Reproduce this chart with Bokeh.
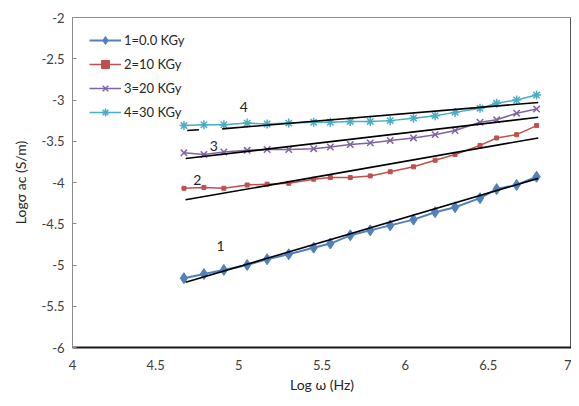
from bokeh.plotting import figure
from bokeh.models import FixedTicker, Legend, LegendItem, Label, Span
from bokeh.embed import file_html
from bokeh.resources import INLINE

# ---- data ----
log_w = [4.67, 4.79, 4.91, 5.05, 5.17, 5.30, 5.45, 5.55, 5.67, 5.79, 5.91, 6.05, 6.18, 6.30, 6.45, 6.55, 6.67, 6.79]
s1_0kgy = [-5.16, -5.11, -5.06, -5.00, -4.93, -4.87, -4.79, -4.74, -4.64, -4.58, -4.52, -4.45, -4.36, -4.30, -4.19, -4.08, -4.03, -3.93]
s2_10kgy = [-4.07, -4.06, -4.07, -4.03, -4.02, -4.01, -3.96, -3.94, -3.94, -3.92, -3.87, -3.81, -3.73, -3.66, -3.55, -3.46, -3.42, -3.31]
s3_20kgy = [-3.64, -3.66, -3.63, -3.61, -3.60, -3.60, -3.59, -3.57, -3.54, -3.52, -3.49, -3.46, -3.42, -3.37, -3.27, -3.24, -3.16, -3.11]
s4_30kgy = [-3.31, -3.30, -3.30, -3.28, -3.29, -3.28, -3.27, -3.27, -3.26, -3.26, -3.25, -3.22, -3.19, -3.15, -3.10, -3.04, -3.00, -2.94]

series_names = ["1=0.0 KGy", "2=10 KGy", "3=20 KGy", "4=30 KGy"]

# linear fit lines (end points)
fit_x = [4.68, 6.80]
fit1_y = [-5.21, -3.95]
fit2_y = [-4.21, -3.46]
fit3_y = [-3.71, -3.21]
fit4a_x = [4.69, 4.76]
fit4a_y = [-3.37, -3.36]
fit4b_x = [4.90, 6.80]
fit4b_y = [-3.35, -3.03]

curve_labels = ["1", "2", "3", "4"]
curve_label_x = [4.89, 4.75, 4.85, 5.03]
curve_label_y = [-4.77, -3.97, -3.56, -3.08]

x_ticks = [4, 4.5, 5, 5.5, 6, 6.5, 7]
x_tick_labels = ["4", "4.5", "5", "5.5", "6", "6.5", "7"]
y_ticks = [-6, -5.5, -5, -4.5, -4, -3.5, -3, -2.5, -2]
y_tick_labels = ["-6", "-5.5", "-5", "-4.5", "-4", "-3.5", "-3", "-2.5", "-2"]

FONT = "Lato"
TXT = "#404040"

p = figure(width=571, height=398, output_backend="svg", toolbar_location=None,
           x_range=(4, 7), y_range=(-6, -2),
           min_border_left=72, min_border_right=0, min_border_top=17, min_border_bottom=51)
p.grid.visible = False
p.outline_line_color = "#8c8c8c"
p.outline_line_width = 1
p.background_fill_color = "white"
p.border_fill_color = "white"

# axes
p.xaxis.ticker = FixedTicker(ticks=x_ticks)
p.xaxis.major_label_overrides = dict(zip(x_ticks, x_tick_labels))
p.yaxis.ticker = FixedTicker(ticks=y_ticks)
p.yaxis.major_label_overrides = dict(zip(y_ticks, y_tick_labels))
for ax in (p.xaxis[0], p.yaxis[0]):
    ax.major_label_text_font = FONT
    ax.major_label_text_font_size = "13px"
    ax.major_label_text_color = TXT
    ax.axis_label_text_font = FONT
    ax.axis_label_text_font_size = "14px"
    ax.axis_label_text_font_style = "normal"
    ax.axis_label_text_color = "#262626"
    ax.minor_tick_line_color = None
p.xaxis.axis_label = "Log ω (Hz)"
p.yaxis.axis_label = "Logσ ac (S/m)"
p.xaxis.major_tick_line_color = None
p.xaxis.major_tick_in = 0
p.xaxis.major_tick_out = 0
p.xaxis.axis_line_color = "#1a1a1a"
p.xaxis.axis_line_width = 2
p.xaxis.major_label_standoff = 12
p.xaxis.axis_label_standoff = 3
p.yaxis.axis_line_color = "#8c8c8c"
p.yaxis.major_tick_in = 4
p.yaxis.major_tick_out = 0
p.yaxis.major_tick_line_color = "#8c8c8c"
p.yaxis.major_label_standoff = 8
p.yaxis.axis_label_standoff = 10

# darker right frame edge
p.add_layout(Span(location=7, dimension="height", line_color="#1a1a1a", line_width=2))

# series
c1, c2, c3, c4 = "#4F81BD", "#C0504D", "#8064A2", "#4BACC6"
l1 = p.line(log_w, s1_0kgy, line_color=c1, line_width=2)
m1 = p.scatter(log_w, s1_0kgy, marker="diamond", size=11, fill_color=c1, line_color=c1)
l2 = p.line(log_w, s2_10kgy, line_color=c2, line_width=1.5)
m2 = p.scatter(log_w, s2_10kgy, marker="square", size=4, fill_color=c2, line_color=c2)
l3 = p.line(log_w, s3_20kgy, line_color=c3, line_width=1.5)
m3 = p.scatter(log_w, s3_20kgy, marker="x", size=9, line_color=c3, line_width=1.5)
l4 = p.line(log_w, s4_30kgy, line_color=c4, line_width=1.5)
m4 = p.scatter(log_w, s4_30kgy, marker="asterisk", size=9, line_color=c4, line_width=1.5)

# fit lines
for fx, fy in [(fit_x, fit1_y), (fit_x, fit2_y), (fit_x, fit3_y), (fit4a_x, fit4a_y), (fit4b_x, fit4b_y)]:
    p.line(fx, fy, line_color="black", line_width=1.6)

for t, x, y in zip(curve_labels, curve_label_x, curve_label_y):
    p.add_layout(Label(x=x, y=y, text=t, text_font=FONT, text_font_size="14px",
                       text_color="#262626", text_align="center", text_baseline="middle"))

legend = Legend(items=[LegendItem(label=series_names[0], renderers=[l1, m1]),
                       LegendItem(label=series_names[1], renderers=[l2, m2]),
                       LegendItem(label=series_names[2], renderers=[l3, m3]),
                       LegendItem(label=series_names[3], renderers=[l4, m4])],
                location=(17, 225))
legend.label_text_font = FONT
legend.label_text_font_size = "13px"
legend.label_text_color = "#262626"
legend.glyph_width = 32
legend.glyph_height = 20
legend.label_height = 20
legend.spacing = 4
legend.padding = 0
legend.margin = 0
legend.label_standoff = 3
legend.border_line_color = None
legend.background_fill_alpha = 0
p.add_layout(legend)

open("out.html", "w").write(file_html(p, INLINE))
